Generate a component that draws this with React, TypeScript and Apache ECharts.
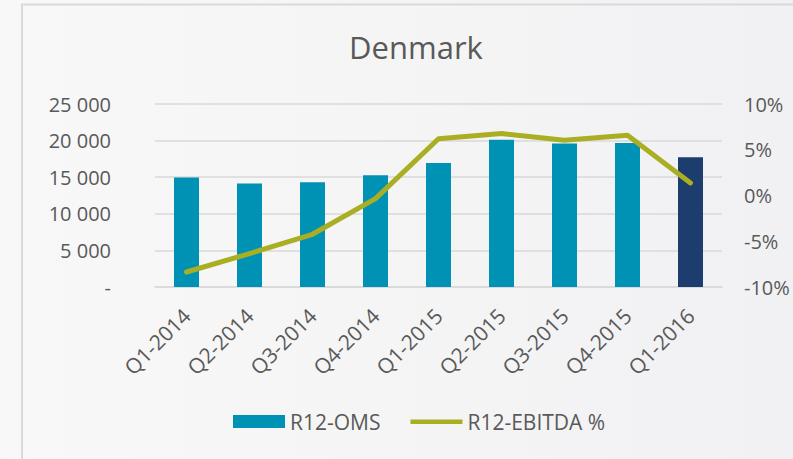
import React, { useEffect, useRef } from "react";
import * as echarts from "echarts";

const categories = ["Q1-2014", "Q2-2014", "Q3-2014", "Q4-2014", "Q1-2015", "Q2-2015", "Q3-2015", "Q4-2015", "Q1-2016"];
const omsValues = [14950, 14130, 14300, 15260, 16940, 20130, 19590, 19670, 17720];
const ebitdaPct = [-8.36, -6.35, -4.24, -0.34, 6.2, 6.77, 6.03, 6.58, 1.37];
const leftTicks = [0, 5000, 10000, 15000, 20000, 25000];
const rightTicks = [-10, -5, 0, 5, 10];

const FONT = "'Open Sans', sans-serif";
const TEXT = "#595959";
const BAR = "#0092B4";
const BAR_LAST = "#1D3D6F";
const LINE = "#AAAE22";

export default function App() {
  const ref = useRef<HTMLDivElement>(null);
  useEffect(() => {
    if (!ref.current) return;
    const chart = echarts.init(ref.current, null, { renderer: "svg" });
    const fmtThousands = (v: number) =>
      v === 0 ? "-" : String(v).replace(/\B(?=(\d{3})+(?!\d))/g, " ");
    chart.setOption({
      animation: false,
      backgroundColor: "transparent",
      textStyle: { fontFamily: FONT },
      title: {
        text: "Denmark",
        left: 411,
        textAlign: "center",
        top: 26,
        textStyle: { fontFamily: FONT, fontSize: 31, fontWeight: "normal", color: TEXT },
      },
      graphic: [
        {
          type: "rect",
          z: -10,
          silent: true,
          shape: { x: 22, y: 4.5, width: 820, height: 520 },
          style: { fill: "transparent", stroke: "#d9d9d9", lineWidth: 2 },
        },
      ],
      legend: {
        left: 233,
        top: 411,
        padding: 0,
        itemWidth: 52,
        itemHeight: 13,
        itemGap: 30,
        textStyle: { fontFamily: FONT, fontSize: 21, color: TEXT },
        data: [
          { name: "R12-OMS", icon: "rect" },
          { name: "R12-EBITDA %", icon: "path://M0,0M0,4.5h52v4.5h-52zM52,13" },
        ],
      },
      grid: { left: 155, right: 71, top: 104, bottom: 172, containLabel: false },
      xAxis: {
        type: "category",
        data: categories,
        axisTick: { show: false },
        axisLine: { show: true, lineStyle: { color: "#d9d9d9", width: 1.5 } },
        axisLabel: {
          rotate: 45,
          margin: 25,
          fontFamily: FONT,
          fontSize: 21,
          color: TEXT,
          interval: 0,
        },
      },
      yAxis: [
        {
          type: "value",
          min: leftTicks[0],
          max: leftTicks[leftTicks.length - 1],
          interval: 5000,
          axisLine: { show: false },
          axisTick: { show: false },
          splitLine: { lineStyle: { color: "#d9d9d9", width: 1.5 } },
          axisLabel: {
            margin: 44,
            fontFamily: FONT,
            fontSize: 20,
            color: TEXT,
            formatter: (v: number) => fmtThousands(v),
          },
        },
        {
          type: "value",
          min: rightTicks[0],
          max: rightTicks[rightTicks.length - 1],
          interval: 5,
          axisLine: { show: false },
          axisTick: { show: false },
          splitLine: { show: false },
          axisLabel: {
            margin: 22,
            fontFamily: FONT,
            fontSize: 20,
            color: TEXT,
            formatter: (v: number) => `${v}%`,
          },
        },
      ],
      series: [
        {
          name: "R12-OMS",
          type: "bar",
          yAxisIndex: 0,
          barWidth: 25,
          itemStyle: { color: BAR },
          data: omsValues.map((v, i) =>
            i === omsValues.length - 1 ? { value: v, itemStyle: { color: BAR_LAST } } : v
          ),
        },
        {
          name: "R12-EBITDA %",
          type: "line",
          yAxisIndex: 1,
          symbol: "none",
          itemStyle: { color: LINE },
          lineStyle: { color: LINE, width: 5, cap: "round", join: "round" },
          data: ebitdaPct,
        },
      ],
    });
    return () => chart.dispose();
  }, []);
  return (
    <div
      style={{
        position: "fixed",
        left: 0,
        top: 0,
        width: 793,
        height: 459,
        background: "linear-gradient(90deg, #f8f8f8 0%, #f4f4f5 60%, #f1f1f4 100%)",
      }}
    >
      <div ref={ref} style={{ width: 793, height: 459 }} />
    </div>
  );
}
